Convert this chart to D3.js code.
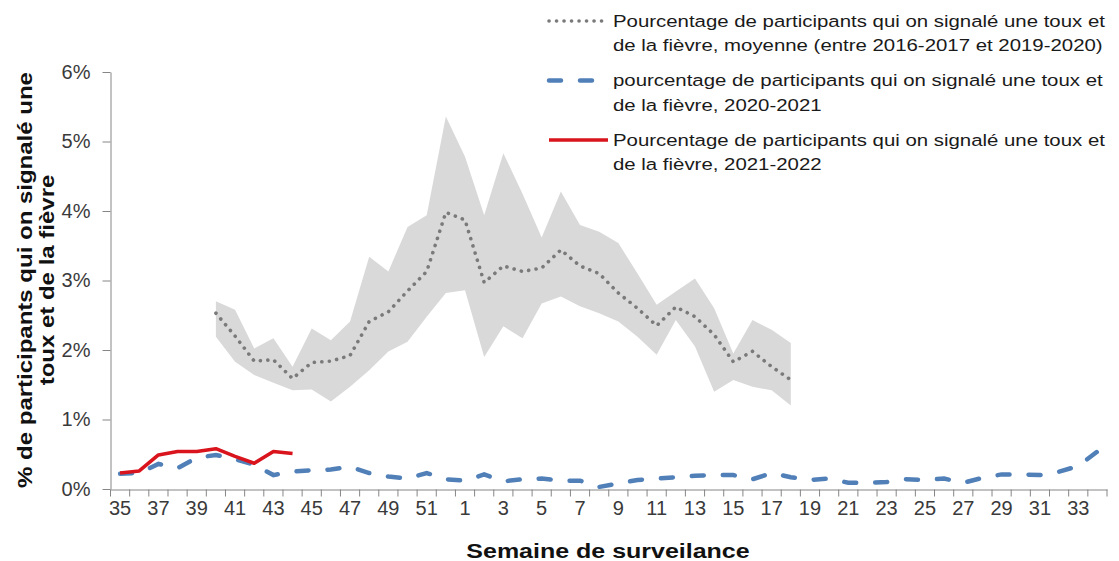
<!DOCTYPE html>
<html>
<head>
<meta charset="utf-8">
<script src="https://cdn.jsdelivr.net/npm/d3@7"></script>
<style>
  body { margin: 0; background: #fff; }
  text { font-family: "Liberation Sans", Arial, sans-serif; }
</style>
</head>
<body>
<svg id="chart" width="1119" height="561"></svg>
<script>
// Surveillance weeks (season starts at week 35)
var weeks = [35,36,37,38,39,40,41,42,43,44,45,46,47,48,49,50,51,52,
             1,2,3,4,5,6,7,8,9,10,11,12,13,14,15,16,17,18,19,20,21,22,23,24,25,26,27,28,29,30,31,32,33,34];

// Average 2016-2017 to 2019-2020 and its min/max range (weeks 40 to 18)
var avgWeeks = [40,41,42,43,44,45,46,47,48,49,50,51,52,1,2,3,4,5,6,7,8,9,10,11,12,13,14,15,16,17,18];
var avgPct = [2.53,2.20,1.84,1.86,1.59,1.82,1.84,1.92,2.41,2.55,2.85,3.13,3.98,3.87,2.97,3.21,3.13,3.18,3.44,3.21,
              3.10,2.82,2.60,2.35,2.62,2.48,2.22,1.83,1.98,1.76,1.57];
var maxPct = [2.70,2.58,2.02,2.17,1.76,2.31,2.14,2.41,3.34,3.13,3.77,3.94,5.36,4.78,3.94,4.83,4.25,3.62,4.28,3.80,
              3.70,3.54,3.10,2.65,2.84,3.03,2.60,1.95,2.43,2.29,2.10];
var minPct = [2.19,1.83,1.64,1.53,1.42,1.43,1.26,1.47,1.71,1.98,2.12,2.48,2.82,2.86,1.90,2.34,2.17,2.67,2.77,2.63,
              2.53,2.41,2.19,1.93,2.43,2.05,1.40,1.57,1.47,1.42,1.20];

// Season 2020-2021 (all weeks)
var pct2021 = [0.22,0.23,0.36,0.30,0.45,0.49,0.43,0.35,0.20,0.25,0.27,0.28,0.32,0.23,0.18,0.15,0.23,0.14,
               0.12,0.21,0.11,0.14,0.15,0.12,0.12,0.03,0.08,0.13,0.15,0.17,0.19,0.20,0.20,0.14,0.23,0.17,
               0.13,0.15,0.09,0.09,0.10,0.14,0.13,0.15,0.09,0.16,0.21,0.21,0.20,0.25,0.33,0.54];

// Season 2021-2022 (weeks 35 to 44)
var weeks2122 = [35,36,37,38,39,40,41,42,43,44];
var pct2122 = [0.23,0.26,0.49,0.54,0.54,0.58,0.47,0.37,0.54,0.51];

var yTicks = [0,1,2,3,4,5,6];

var legendLabels = [
  ["Pourcentage de participants qui on signalé une toux et", "de la fièvre, moyenne (entre 2016-2017 et 2019-2020)"],
  ["pourcentage de participants qui on signalé une toux et", "de la fièvre, 2020-2021"],
  ["Pourcentage de participants qui on signalé une toux et", "de la fièvre, 2021-2022"]
];

var svg = d3.select("#chart");
var axisColor = "#868686";
var labelColor = "#3a3a3a";

var x = d3.scaleBand().domain(weeks).range([110.5, 1107]);
var y = d3.scaleLinear().domain([0, 6]).range([489, 72]);
var cx = function(w) { return x(w) + x.bandwidth() / 2; };

// min-max range band
var band = d3.area()
    .x(function(d, i) { return cx(avgWeeks[i]); })
    .y0(function(d, i) { return y(minPct[i]); })
    .y1(function(d, i) { return y(maxPct[i]); });
svg.append("path")
    .datum(avgWeeks)
    .attr("d", band)
    .style("fill", "#d9d9d9");

// Axes
var yAxis = svg.append("g")
    .attr("transform", "translate(110.5,0)")
    .call(d3.axisLeft(y).tickValues(yTicks).tickSize(8).tickSizeOuter(0).tickPadding(12)
        .tickFormat(function(d) { return d + "%"; }));
yAxis.selectAll("path, line").style("stroke", axisColor);
yAxis.selectAll("text").style("font-size", "20px").style("fill", labelColor)
    .style("font-family", "'Liberation Sans', Arial, sans-serif");

var xAxis = svg.append("g")
    .attr("transform", "translate(0,489.5)")
    .call(d3.axisBottom(x).tickValues(weeks.filter(function(w, i) { return i % 2 === 0; }))
        .tickSize(0).tickSizeOuter(0).tickPadding(11));
xAxis.select(".domain").style("stroke", axisColor);
xAxis.selectAll("text").style("font-size", "20px").style("fill", labelColor)
    .style("font-family", "'Liberation Sans', Arial, sans-serif");
// tick marks sit between categories
xAxis.selectAll(".sep")
    .data(weeks.map(function(w) { return x(w); }).concat([x.range()[1]]))
    .enter().append("line")
    .attr("x1", function(d) { return d; }).attr("x2", function(d) { return d; })
    .attr("y1", 0).attr("y2", 7)
    .style("stroke", axisColor);

// Series lines
var avgLine = d3.line()
    .x(function(d, i) { return cx(avgWeeks[i]); })
    .y(function(d) { return y(d); });
svg.append("path")
    .datum(avgPct)
    .attr("d", avgLine)
    .style("fill", "none").style("stroke", "#7a7a7a").style("stroke-width", 3.6)
    .style("stroke-linecap", "round").style("stroke-dasharray", "0.1 7.4");

var line2021 = d3.line()
    .x(function(d, i) { return cx(weeks[i]); })
    .y(function(d) { return y(d); });
svg.append("path")
    .datum(pct2021)
    .attr("d", line2021)
    .style("fill", "none").style("stroke", "#5180b8").style("stroke-width", 4.5)
    .style("stroke-linecap", "round").style("stroke-dasharray", "12 19");

var line2122 = d3.line()
    .x(function(d, i) { return cx(weeks2122[i]); })
    .y(function(d) { return y(d); });
svg.append("path")
    .datum(pct2122)
    .attr("d", line2122)
    .style("fill", "none").style("stroke", "#d9141c").style("stroke-width", 3.6)
    .style("stroke-linejoin", "round");

// Axis titles
svg.append("text")
    .attr("transform", "translate(608,558) scale(1.25,1)")
    .attr("text-anchor", "middle")
    .style("font-size", "20px").style("font-weight", "bold").style("fill", "#111")
    .text("Semaine de surveilance");

var yTitle = svg.append("g").attr("transform", "translate(0,280) rotate(-90) scale(1.2,1)");
yTitle.append("text").attr("x", 0).attr("y", 32).attr("text-anchor", "middle")
    .style("font-size", "20px").style("font-weight", "bold").style("fill", "#111")
    .text("% de participants qui on signalé une");
yTitle.append("text").attr("x", 0).attr("y", 54).attr("text-anchor", "middle")
    .style("font-size", "20px").style("font-weight", "bold").style("fill", "#111")
    .text("toux et de la fièvre");

// Legend
var legendStyles = [
  { stroke: "#7a7a7a", width: 3.6, dash: "0.1 7.4", cap: "round" },
  { stroke: "#5180b8", width: 4.5, dash: "12 19", cap: "round" },
  { stroke: "#d9141c", width: 3.6, dash: null, cap: "butt" }
];
var legendRowY = [21, 80.5, 140];
var legend = svg.append("g");
legendLabels.forEach(function(lines, k) {
  var st = legendStyles[k];
  legend.append("line")
      .attr("x1", 549).attr("x2", 608)
      .attr("y1", legendRowY[k]).attr("y2", legendRowY[k])
      .style("stroke", st.stroke).style("stroke-width", st.width)
      .style("stroke-linecap", st.cap).style("stroke-dasharray", st.dash);
  var t = legend.append("g").attr("transform", "translate(613," + legendRowY[k] + ") scale(1.2,1)");
  lines.forEach(function(s, j) {
    t.append("text").attr("x", 0).attr("y", j * 24.5).attr("dy", "0.35em")
        .style("font-size", "17px").style("fill", "#1a1a1a")
        .text(s);
  });
});
</script>
</body>
</html>
